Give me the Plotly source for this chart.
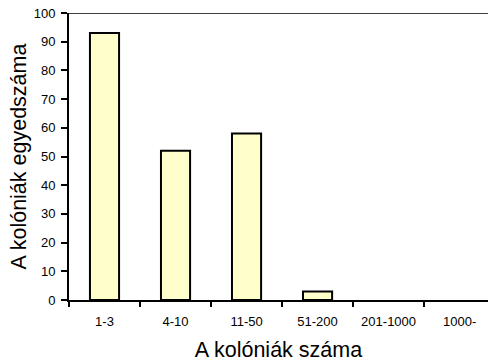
import plotly.graph_objects as go

categories = ["1-3", "4-10", "11-50", "51-200", "201-1000", "1000-"]
values = [93, 52, 58, 3, 0, 0]
y_ticks = [0, 10, 20, 30, 40, 50, 60, 70, 80, 90, 100]

outline = [2 if v > 0 else 0 for v in values]

fig = go.Figure(go.Bar(
    x=categories, y=values,
    marker=dict(color="#FFFFCC", line=dict(color="black", width=outline)),
    width=0.41,
))

fig.update_layout(
    width=489, height=363,
    margin=dict(l=69, r=1, t=13, b=63, autoexpand=False),
    paper_bgcolor="white", plot_bgcolor="white",
    font=dict(family="Liberation Sans, Arial, sans-serif", color="black"),
    showlegend=False,
    xaxis=dict(
        range=[-0.5, 5.4],
        automargin=False,
        showline=True, linecolor="black", linewidth=2,
        ticks="outside", ticklen=5, tickwidth=2, tickcolor="black",
        tickson="boundaries",
        ticklabelstandoff=8,
        tickfont=dict(size=13),
        title=dict(text="A kolóniák száma", font=dict(size=21.5), standoff=14),
        showgrid=False,
    ),
    yaxis=dict(
        range=[0, 100],
        automargin=False,
        tickvals=y_ticks,
        showline=True, linecolor="black", linewidth=2,
        ticks="outside", ticklen=6, tickwidth=2, tickcolor="black",
        ticklabelstandoff=3,
        tickfont=dict(size=13),
        title=dict(text="A kolóniák egyedszáma", font=dict(size=21.5), standoff=1),
        showgrid=False, zeroline=False,
    ),
    shapes=[dict(type="line", xref="paper", yref="y", x0=0, x1=1, y0=100, y1=100,
                 line=dict(color="black", width=1.5))],
)

fig.write_html("out.html", config={"displayModeBar": False},
               post_script="document.body.style.margin='0';")
